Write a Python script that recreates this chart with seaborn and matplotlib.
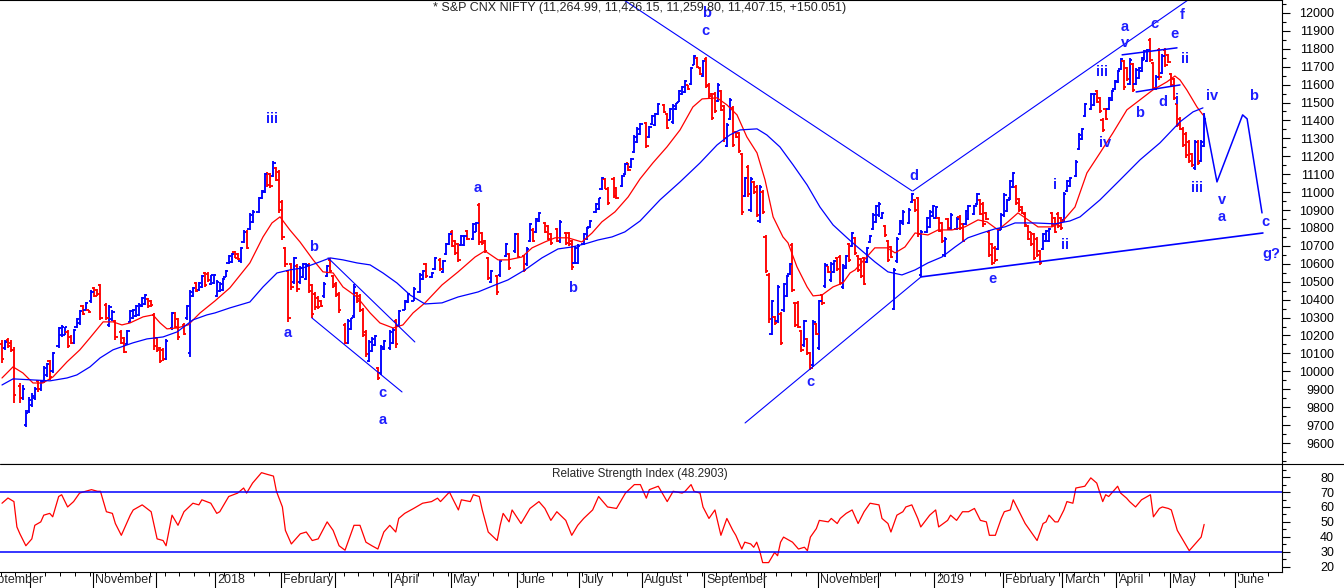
import matplotlib
matplotlib.use("Agg")
import matplotlib.pyplot as plt
import matplotlib.transforms as mtransforms
from matplotlib.lines import Line2D
import numpy as np
import pandas as pd
import seaborn as sns

sns.set_theme(style="white")
plt.rcParams["font.family"] = ["Liberation Sans", "DejaVu Sans"]

BLUE = "#0000ff"
RED = "#ff0000"
LABEL_BLUE = "#1e1eff"

# ---------------- daily bars (trading-session number, open, high, low, close) ----------------
session = [
    0,1,2,3,4,6,7,8,9,10,11,12,13,14,15,16,17,19,20,21,22,23,24,25,26,27,28,29,30,31,32,33,35,36,37,38,40,41,42,43,44,45,46,47,48,49,50,51,52,53,54,55,57,58,59,61,62,63,64,65,66,67,68,69,70,71,
    72,73,74,75,76,77,78,79,80,81,82,83,84,86,87,88,89,90,91,92,93,94,95,96,97,98,99,100,101,102,103,104,105,106,107,108,109,110,111,112,113,115,116,117,118,119,120,121,122,123,124,125,126,127,128,130,131,132,133,135,136,138,140,141,
    142,144,145,147,148,149,150,151,152,153,154,155,156,158,159,160,161,162,163,164,166,167,169,170,172,173,175,176,177,178,179,180,182,183,184,186,187,189,190,191,192,193,195,196,197,199,200,201,202,203,205,206,208,209,210,211,212,213,
    214,216,217,218,219,220,222,223,224,225,226,227,228,229,230,231,232,233,234,235,236,237,238,239,240,241,242,243,244,245,246,247,248,249,250,251,252,253,254,255,256,257,258,259,260,261,262,263,264,265,266,267,268,269,270,271,272,273,274,275,276,277,278,279,280,281,282,283,284,285,286,
    287,288,289,290,291,292,293,294,295,296,297,298,299,300,301,302,304,305,306,307,308,310,311,312,313,314,315,316,317,318,320,321,322,323,324,326,327,328,329,330,331,332,333,334,335,336,337,338,339,340,341,342,343,344,345,346,347,348,349,350,351,352,353,354,355,356,
    357,358,360,361,362,363,365,366,367,368,369,370,371,372,373,374,375,376,377,378,379,380,381,382,383,384,385,386,387,388,389,390,391,392,393,394,395,396,397,398,399,400,401,402,403,
]
opens = [
    10150,10130,10175,10160,10120,9920,9850,9700,9780,9810, 9850,9945,9900,9945,9980,10055,10000,10140,10200,10205,
    10220,10190,10160,10245,10270,10365,10345,10340,10390,10465, 10455,10480,10370,10260,10290,10280,10220,10185,10150,10275,
    10295,10310,10315,10365,10375,10405,10395,10315,10185,10130, 10120,10070,10240,10325,10290,10260,10295,10100,10420,10495,
    10455,10470,10550,10545,10490,10495,
    10420,10450,10455,10528,10605,10610,10665,10655,10615,10720, 10780,10795,10835,10890,10965,11000,11100,11100,11090,11135,
    11115,10945,10690,10560,10600,10500,10590,10500,10525,10515, 10595,10480,10430,10410,10395,10420,10530,10620,10530,10490,
    10430,10260,10160,10235,10310,10435,10420,10345,10220,10060, 10115,10145,10020,9990,10125,10130,10160,10280,10255,10345,
    10385,10395,10445,10515,
    10600,10525,10570,10620,10555,10655,10710,10780,10725,10710, 10705,10705,10785,10740,10780,10930,10770,10725,10630,10500,
    10530,10535,10645,10655,10670,10765,10645,10600,10725,10790, 10780,10840,10830,10810,10765,10795,10725,10770,10770,10725,
    10605,10605,10710,10740,10805,10890,10905,11015,11075,11020, 11075,11025,11035,11100,11160,11140,11225,11280,
    11325,11385,11305,11380,11375,11435,11485,11435,11405,11390, 11462,11505,11545,11560,11598,11605,11712,11750,11695,11650,
    11745,11600,11545,11550,11510,11565,11480,11260,11410,11470, 11335,11330,11210,10980,11140,10900,11055,11030,10840,11000,
    10750,10540,10210,10305,10280,10320,10340,10420,10545,10705, 10380,10380,10225,10145,10180,10100,10035,10265,10130,10425,
    10475,10585,10510,10555,10635,10640,10470,10575,10710,10700, 10745,
    10645,10625,10630,10610,10720,10795,10835,10870,10855,10810, 10725,10695,10350,10615,10765,10825,10830,10945,10955,10965,
    10540,10775,10805,10865,10855,10855,10825,10650,10850,10795, 10795,10860,10820,10820,10850,10880,10935,10955,10935,10885,
    10780,10710,10690,10685,10795,10870,10895,10965,11030,11030, 10960,10915,10880,10810,10775,10765,10740,10670,10685,10725,
    10725,10885,10855,10880,10855,10845,
    11005,11035,11090,11240,11295,11425,11465,11485,11565,11525, 11405,11465,11465,11515,11575,11615,11685,11730,11695,11605,
    11715,11605,11635,11675,11740,11730,11850,11720,11575,11795, 11665,11795,11765,11660,11630,11490,11410,11355,11325,11280,
    11210,11135,11280,11175,11260,
]
highs = [
    10175,10175,10186,10175,10136,9935,9924,9785,9857,9880, 9913,9952,9952,10030,10047,10064,10109,10247,10258,10250,
    10230,10200,10236,10300,10343,10371,10387,10343,10454,10471, 10460,10490,10382,10371,10340,10287,10230,10192,10231,10343,
    10350,10371,10380,10415,10430,10410,10400,10325,10192,10136, 10130,10180,10332,10332,10300,10270,10371,10454,10471,10500,
    10500,10538,10555,10555,10540,10545,
    10510,10500,10520,10565,10650,10660,10670,10660,10694,10789, 10789,10884,10900,10973,11010,11107,11110,11107,11171,11140,
    11124,10957,10694,10566,10605,10640,10600,10585,10605,10605, 10605,10490,10440,10420,10400,10500,10594,10630,10540,10500,
    10440,10270,10290,10300,10490,10440,10430,10355,10231,10175, 10190,10200,10025,10147,10175,10231,10240,10290,10343,10398,
    10438,10470,10549,10566,
    10605,10555,10638,10630,10622,10717,10772,10789,10733,10717, 10760,10760,10789,10828,10834,10940,10778,10733,10638,10566,
    10538,10622,10717,10661,10772,10772,10650,10694,10828,10800, 10856,10890,10834,10817,10772,10800,10845,10778,10778,10733,
    10700,10710,10772,10806,10845,10940,10970,11085,11080,11030, 11085,11030,11096,11163,11163,11191,11319,11364,
    11386,11392,11370,11431,11440,11498,11490,11440,11470,11490, 11498,11570,11590,11626,11600,11699,11766,11754,11699,11738,
    11754,11609,11554,11560,11609,11570,11487,11386,11526,11480, 11340,11336,11219,11085,11152,11085,11060,11040,11040,11010,
    10761,10549,10398,10310,10482,10332,10493,10538,10605,10717, 10387,10390,10231,10287,10186,10108,10287,10270,10398,10430,
    10605,10590,10610,10622,10640,10650,10600,10650,10717,10778, 10750,
    10650,10633,10640,10694,10761,10884,10930,10945,10890,10817, 10733,10700,10577,10750,10845,10900,10910,10996,10960,10973,
    10789,10860,10900,10929,10920,10860,10834,10750,10856,10884, 10860,10870,10830,10901,10930,10930,10996,10960,10945,10890,
    10789,10717,10700,10800,10884,10996,10960,11068,11113,11040, 10968,10920,10890,10817,10780,10772,10750,10677,10772,10790,
    10800,10890,10860,10890,10860,11001,
    11068,11085,11180,11330,11358,11498,11554,11554,11570,11531, 11414,11470,11531,11570,11626,11682,11750,11738,11700,11749,
    11721,11690,11700,11754,11794,11800,11860,11727,11654,11805, 11770,11805,11770,11665,11637,11498,11420,11364,11336,11291,
    11219,11291,11290,11290,11440,
]
lows = [
    10047,10120,10131,10108,9824,9824,9841,9690,9768,9800, 9841,9885,9890,9935,9970,9952,9990,10130,10190,10200,
    10131,10150,10150,10240,10260,10315,10343,10326,10382,10415, 10420,10287,10287,10250,10280,10175,10150,10100,10147,10270,
    10290,10304,10310,10360,10370,10355,10360,10120,10108,10047, 10060,10064,10231,10240,10175,10200,10287,10080,10415,10440,
    10450,10466,10470,10500,10480,10490,
    10415,10440,10450,10525,10600,10605,10630,10620,10605,10717, 10680,10789,10830,10884,10960,10996,11030,11025,11085,11060,
    10884,10735,10583,10276,10454,10490,10440,10490,10520,10510, 10438,10300,10343,10350,10360,10410,10527,10549,10466,10415,
    10326,10150,10150,10230,10300,10380,10330,10190,10080,10053, 10110,10140,9952,9980,10120,10120,10150,10130,10250,10343,
    10382,10390,10438,10510,
    10521,10521,10566,10560,10549,10650,10705,10694,10650,10611, 10700,10700,10733,10733,10778,10705,10705,10661,10510,10493,
    10426,10527,10638,10566,10661,10630,10555,10590,10720,10720, 10772,10834,10772,10733,10705,10722,10717,10705,10700,10566,
    10600,10600,10705,10733,10800,10884,10900,11012,11015,10929, 10968,10960,11029,11096,11120,11135,11219,11275,
    11319,11247,11300,11375,11370,11431,11440,11350,11400,11380, 11460,11503,11542,11554,11570,11598,11710,11693,11654,11643,
    11581,11526,11403,11440,11503,11450,11280,11252,11403,11250, 11300,11219,10873,10973,10973,10890,10990,10862,10828,10880,
    10549,10270,10203,10260,10270,10147,10332,10415,10538,10443, 10248,10240,10108,10136,10092,10005,10025,10200,10120,10370,
    10466,10550,10500,10549,10560,10482,10460,10570,10611,10694, 10650,
    10555,10521,10480,10605,10717,10789,10830,10862,10850,10750, 10611,10630,10343,10605,10761,10817,10820,10940,10890,10750,
    10527,10770,10800,10862,10850,10775,10717,10640,10790,10789, 10790,10790,10720,10817,10845,10875,10929,10870,10806,10845,
    10638,10594,10611,10677,10789,10862,10890,10957,11025,10929, 10890,10880,10806,10733,10700,10622,10638,10594,10677,10720,
    10720,10806,10770,10800,10790,10834,
    11001,11029,11085,11236,11290,11420,11459,11480,11498,11442, 11336,11400,11459,11510,11570,11610,11682,11570,11620,11598,
    11559,11600,11630,11671,11738,11727,11727,11570,11570,11626, 11660,11699,11720,11587,11515,11364,11347,11252,11191,11163,
    11141,11124,11150,11170,11252,
]
closes = [
    10070,10165,10140,10120,9870,9850,9900,9770,9840,9860, 9900,9900,9940,10020,10040,9970,10100,10240,10250,10245,
    10140,10160,10230,10290,10335,10320,10380,10330,10445,10420, 10430,10300,10300,10360,10330,10190,10160,10110,10225,10335,
    10345,10365,10370,10410,10425,10365,10370,10140,10120,10060, 10070,10170,10325,10250,10190,10210,10365,10440,10465,10450,
    10495,10530,10480,10510,10535,10540,
    10500,10490,10515,10560,10645,10655,10635,10625,10690,10780, 10690,10875,10890,10965,11005,11100,11040,11035,11160,11070,
    10900,10750,10600,10300,10470,10630,10460,10575,10600,10595, 10450,10320,10360,10360,10365,10490,10590,10560,10475,10425,
    10340,10160,10280,10295,10470,10390,10340,10200,10095,10165, 10180,10195,9965,10135,10170,10220,10230,10150,10335,10390,
    10430,10460,10540,10560,
    10530,10550,10630,10570,10615,10710,10765,10700,10660,10620, 10755,10755,10740,10820,10830,10720,10715,10670,10520,10560,
    10440,10615,10710,10575,10765,10640,10565,10685,10820,10730, 10850,10885,10780,10740,10715,10730,10835,10715,10710,10580,
    10690,10700,10765,10800,10840,10935,10965,11080,11020,10940, 10980,10970,11090,11155,11125,11185,11310,11355,
    11380,11260,11365,11425,11435,11490,11445,11360,11465,11480, 11495,11565,11585,11620,11575,11690,11760,11700,11660,11730,
    11590,11535,11415,11450,11600,11460,11300,11375,11515,11265, 11305,11230,10890,11080,10990,11075,11000,10875,11030,10890,
    10560,10290,10390,10270,10470,10160,10485,10530,10600,10455, 10260,10250,10120,10280,10100,10020,10275,10210,10390,10380,
    10595,10555,10600,10615,10570,10495,10590,10645,10620,10770, 10660,
    10565,10530,10490,10690,10755,10875,10920,10935,10885,10760, 10620,10640,10565,10740,10840,10890,10900,10990,10900,10765,
    10780,10855,10890,10920,10915,10785,10730,10740,10800,10875, 10850,10800,10730,10895,10925,10925,10990,10880,10820,10850,
    10650,10605,10620,10790,10875,10985,10955,11060,11105,10940, 10900,10885,10815,10740,10710,10635,10650,10605,10765,10785,
    10795,10815,10780,10810,10800,10990,
    11060,11080,11170,11320,11350,11490,11545,11550,11505,11450, 11345,11410,11525,11565,11620,11675,11745,11585,11630,11740,
    11570,11680,11695,11750,11790,11795,11740,11580,11645,11640, 11760,11710,11725,11595,11525,11375,11355,11265,11205,11175,
    11150,11280,11160,11280,11407,
]

# ---------------- moving averages ----------------
ma_fast_s = [0,3.7,7.0,10.4,13.7,17.1,21.8,26.1,29.5,33.9,37.2,40.2,42.9,47.3,50.6,53.0,55.3,58.7,62.4,66.4,71.4,76.4,83.1,87.5,90.5,93.2,96.5,99.9,104.3,107.6,111.0,114.3,119.0,123.4,126.7,131.1,134.4,137.8,141.8,147.5,152.9,158.6,161.9,166.3,169.6,174.3,177.7,182.0,185.4,189.7,194.4,197.8,201.1,205.5,209.9,213.9,218.2,222.9,227.3,231.6,234.7,239.7,243.0,246.4,249.7,253.1,255.8,258.5,261.8,263.5,266.5,269.9,271.9,274.9,278.6,281.9,284.3,286.0,292.6,296.7,299.4,302.7,306.1,310.4,313.8,318.5,322.8,327.2,330.2,333.9,337.2,340.6,344.0,347.3,352.0,355.4,359.7,363.7,368.1,372.4,377.1,381.5,385.8,390.5,393.2,394.9,397.2,400.6,402.6]
ma_fast_v = [9963,10025,9991,9935,9935,9969,10053,10120,10187,10276,10276,10259,10270,10304,10315,10270,10237,10242,10259,10326,10393,10466,10605,10750,10828,10862,10789,10722,10622,10555,10549,10471,10415,10326,10270,10242,10259,10326,10382,10482,10555,10638,10672,10622,10622,10638,10689,10722,10745,10745,10722,10772,10834,10890,10973,11074,11163,11252,11347,11475,11520,11526,11487,11431,11308,11219,11068,10862,10750,10717,10583,10471,10421,10426,10471,10493,10549,10566,10689,10689,10661,10694,10772,10761,10789,10789,10806,10845,10834,10789,10834,10884,10845,10806,10806,10834,10917,11107,11219,11330,11459,11515,11570,11615,11648,11626,11570,11475,11431]
ma_slow_s = [0,3.7,10.4,16.1,21.8,25.1,29.5,32.9,37.2,43.9,48.6,54.0,58.7,64.0,68.7,71.4,76.4,83.1,87.5,92.2,96.5,100.9,105.6,110.0,114.3,119.0,123.4,127.7,132.4,136.8,141.8,147.5,152.9,159.6,165.3,169.6,175.3,181.0,186.4,191.1,195.4,199.8,204.5,208.8,213.9,220.6,227.3,234.0,239.7,244.0,247.4,253.1,256.4,260.8,265.2,269.9,274.2,278.6,283.3,286.0,292.6,297.0,301.7,306.1,310.4,315.1,319.5,323.8,328.5,332.9,336.2,339.6,346.3,353.0,358.0,361.4,368.1,374.8,381.5,388.2,394.9,399.3,402.6]
ma_slow_v = [9924,9958,9952,9947,9963,9980,10025,10075,10120,10159,10181,10192,10220,10287,10315,10326,10354,10387,10471,10549,10566,10577,10605,10633,10622,10605,10594,10549,10493,10426,10376,10382,10415,10443,10482,10510,10566,10633,10683,10694,10711,10733,10750,10778,10839,10957,11057,11163,11263,11319,11347,11353,11319,11252,11152,11040,10917,10817,10745,10705,10611,10555,10538,10566,10605,10638,10694,10745,10772,10795,10806,10828,10828,10823,10839,10862,10957,11068,11180,11275,11392,11448,11470]

# ---------------- RSI ----------------
rsi_s = [0,2,4,5,6,8,10,11,13,14,16,17,19,20,22,24,26,28,30,32,33,35,37,38,40,43,44,47,50,52,54,55,57,59,61,64,66,67,70,72,73,76,79,81,82,84,87,89,91,92,94,95,97,98,100,102,104,106,109,111,113,115,118,120,122,124,126,128,130,132,133,135,138,141,144,146,147,150,151,153,154,157,158,160,161,163,166,167,168,170,171,174,177,180,182,184,186,189,191,193,195,198,200,203,206,209,212,214,216,
         217,220,221,223,224,225,228,229,231,232,234,235,237,239,241,243,245,246,248,249,251,252,253,254,255,257,259,260,261,262,265,267,269,270,271,273,274,277,278,280,281,283,285,287,289,291,294,295,297,298,300,302,303,305,307,308,311,313,314,317,318,320,322,324,326,328,330,331,333,335,336,338,339,341,343,345,347,349,350,351,353,354,356,357,359,360,363,365,367,369,370,371,374,375,377,378,380,382,385,386,388,389,391,392,394,396,397,398,400,402,403]
rsi_v = [62.5,66,63.6,46.6,42,34,38.6,47.7,50,54.5,55.7,53.4,67,68.2,60,63.6,69.3,70.5,71.6,70.5,70.5,56.8,55.7,48.9,41,54.5,58,61.4,56.8,38.6,37.5,34,54.5,47.7,56.8,62.5,61.4,64.8,62.5,55.7,56.8,67,69.3,72.7,69.3,76,83,81.8,80.7,70.5,60,44.3,35.2,37.5,42,43.2,37.5,38.6,50,44.3,34,31,47.7,47.7,36.4,34,31.8,43.2,47.7,43.2,52.3,55.7,59,62.5,63.6,65.9,63.6,70,65.9,58,64.8,63.6,68.2,67,58,43.2,37.5,47.7,55.7,50,58,48.9,59,63.6,59,51,56.8,51,41,47.7,52.3,58,67,60,59,69.3,75,75,65.9,
         71.6,73.9,70.5,63.6,67,70.5,69.3,70.5,75,70.5,69.3,60,52.3,58,41,52.3,44.3,41,31.8,36.4,35.2,33,36.4,30.7,22.7,22.7,29.5,27.3,36.4,39.8,36.4,31.8,33,30.7,39.8,45.5,51,50,52.3,48.9,52.3,55.7,58,48.9,56.8,62.5,61.4,52.3,48.9,43.2,54.5,56.8,60,61.4,52.3,46.6,54.5,58,46.6,51,54.5,51,56.8,56.8,59,51,50,41,41,52.3,56.8,58,64.8,56.8,48.9,43.2,37.5,48.9,50,54.5,50,50,58,63.6,62.5,72.7,73.9,79.5,76,63.6,68.2,67,73.9,69.3,65.9,63.6,60,64.8,68.2,53.4,59,60,59,58,44.3,37.5,34,30.7,35.2,39.8,48.3]

# ---------------- axes text ----------------
month_pos = [-7.5, 9.5, 30.5, 51.5, 71.5, 93.5, 111.5, 130.5, 150.5, 172.5, 193.5, 214.5, 235.5, 255.5, 273.5, 293.5, 312.5, 335.5, 355.5, 373.5, 391.5, 413.5]
month_labels = ["September", "", "November", "", "2018", "February", "", "April", "May", "June", "July", "August", "September", "", "November", "", "2019", "February", "March", "April", "May", "June"]
price_ticks = [9600, 9700, 9800, 9900, 10000, 10100, 10200, 10300, 10400, 10500, 10600, 10700, 10800, 10900, 11000, 11100, 11200, 11300, 11400, 11500, 11600, 11700, 11800, 11900, 12000]
rsi_ticks = [20, 30, 40, 50, 60, 70, 80]
rsi_bands = [70, 30]
title_text = "* S&P CNX NIFTY (11,264.99, 11,426.15, 11,259.80, 11,407.15, +150.051)"
rsi_title = "Relative Strength Index (48.2903)"

# ---------------- hand-drawn study lines (session, price) ----------------
trend_lines = [
    ([109.3, 138.4], [10633, 10164], 0.8),
    ([103.9, 134.1], [10298, 9885], 0.8),
    ([208.5, 305.1], [12072, 11007], 0.8),
    ([305.4, 397.6], [11007, 12072], 0.8),
    ([249.1, 308.1], [9712, 10527], 0.8),
    ([308.1, 422.7], [10527, 10772], 1.2),
    ([375.5, 393.9], [11766, 11805], 1.1),
    ([380.2, 394.9], [11559, 11598], 1.1),
]
projection_s = [403.0, 407.3, 415.9, 417.4, 422.4]
projection_p = [11431, 11057, 11431, 11409, 10884]

wave_labels = [
    ("iii", 90.5, 11409), ("a", 95.9, 10214), ("b", 104.6, 10694), ("c", 127.4, 9880), ("a", 127.7, 9729),
    ("a", 159.6, 11024), ("b", 191.4, 10466), ("b", 236.3, 12000), ("c", 235.7, 11900), ("c", 270.9, 9941),
    ("d", 305.7, 11090), ("e", 331.9, 10516), ("i", 353.0, 11040), ("ii", 356.3, 10705), ("iii", 368.8, 11671),
    ("iv", 369.8, 11275), ("a", 376.5, 11922), ("v", 376.5, 11833), ("c", 386.5, 11939), ("f", 395.6, 11989),
    ("e", 393.2, 11883), ("ii", 396.6, 11743), ("b", 381.5, 11442), ("d", 389.2, 11503), ("i", 393.9, 11515),
    ("iv", 405.6, 11537), ("b", 419.7, 11537), ("iii", 400.6, 11024), ("v", 409.0, 10957), ("a", 409.0, 10862),
    ("c", 423.4, 10834), ("g?", 425.7, 10655),
]

assert len(session) == len(opens) == len(highs) == len(lows) == len(closes)
assert len(ma_fast_s) == len(ma_fast_v) and len(ma_slow_s) == len(ma_slow_v) and len(rsi_s) == len(rsi_v)

bars = pd.DataFrame({"session": session, "open": opens, "high": highs, "low": lows, "close": closes})
bars["color"] = np.where(bars["close"] >= bars["open"], BLUE, RED)

# ---------------- layout ----------------
W, H = 1344, 588
fig = plt.figure(figsize=(W / 100, H / 100), dpi=100)
fig.patch.set_facecolor("white")
ax = fig.add_axes([0, 1 - 464 / H, 1282 / W, 464 / H])
axr = fig.add_axes([0, 1 - 572 / H, 1282 / W, 108 / H])
XMIN, XMAX = -0.67, 429.1
for a in (ax, axr):
    a.set_xlim(XMIN, XMAX)
    a.set_facecolor("white")
    a.grid(False)
ax.set_ylim(9483, 12072)
axr.set_ylim(16.4, 88.8)

# ---------------- price bars ----------------
tk = 0.75
ax.vlines(bars["session"], bars["low"], bars["high"], colors=bars["color"], lw=1.35)
ax.hlines(bars["open"], bars["session"] - tk, bars["session"], colors=bars["color"], lw=1.35)
ax.hlines(bars["close"], bars["session"], bars["session"] + tk, colors=bars["color"], lw=1.35)

sns.lineplot(x=ma_fast_s, y=ma_fast_v, ax=ax, color=RED, lw=0.9, estimator=None, sort=False)
sns.lineplot(x=ma_slow_s, y=ma_slow_v, ax=ax, color=BLUE, lw=0.9, estimator=None, sort=False)
for xs, ys, lw in trend_lines:
    sns.lineplot(x=xs, y=ys, ax=ax, color=BLUE, lw=lw, estimator=None, sort=False)
sns.lineplot(x=projection_s, y=projection_p, ax=ax, color=BLUE, lw=1.1, estimator=None, sort=False)

for t, s, p in wave_labels:
    ax.text(s, p, t, color=LABEL_BLUE, fontsize=10.5, fontweight="bold", ha="center", va="center")

# ---------------- RSI ----------------
sns.lineplot(x=rsi_s, y=rsi_v, ax=axr, color=RED, lw=0.9, estimator=None, sort=False)
for b in rsi_bands:
    axr.axhline(b, color=BLUE, lw=1.1)

# ---------------- axes styling ----------------
for a in (ax, axr):
    a.spines["left"].set_visible(False)
    for sp in ("top", "right", "bottom"):
        a.spines[sp].set_color("black")
        a.spines[sp].set_linewidth(0.8)
axr.spines["top"].set_visible(False)

ax.set_xticks([])
ax.yaxis.tick_right()
ax.set_yticks(price_ticks)
ax.set_yticklabels([str(t) for t in price_ticks], ha="right")
ax.set_yticks([t + 50 for t in price_ticks] + [9550, 9500], minor=True)
ax.tick_params(axis="y", which="major", direction="out", length=6, width=0.8, colors="black",
               labelsize=9, pad=31.5, right=True, left=False, labelright=True, labelleft=False)
ax.tick_params(axis="y", which="minor", direction="out", length=3, width=0.8, colors="black", right=True, left=False)

axr.yaxis.tick_right()
axr.set_yticks(rsi_ticks)
axr.set_yticklabels([str(t) for t in rsi_ticks], ha="right")
axr.set_yticks([t + 5 for t in rsi_ticks], minor=True)
axr.tick_params(axis="y", which="major", direction="out", length=6, width=0.8, colors="black",
                labelsize=9, pad=31.5, right=True, left=False, labelright=True, labelleft=False)
axr.tick_params(axis="y", which="minor", direction="out", length=3, width=0.8, colors="black", right=True, left=False)

axr.set_xticks([m for m in month_pos if m > XMIN])
axr.set_xticks(np.arange(-0.5, XMAX, 5), minor=True)
axr.tick_params(axis="x", which="major", direction="out", length=12, width=0.8, colors="black",
                bottom=True, labelbottom=False)
axr.tick_params(axis="x", which="minor", direction="out", length=3, width=0.7, colors="black", bottom=True)
for a in (ax, axr):
    a.set_xlabel("")
    a.set_ylabel("")

trans = mtransforms.blended_transform_factory(axr.transData, axr.transAxes)
for pos, lab in zip(month_pos, month_labels):
    if lab:
        axr.text(pos + 0.8, -0.078, lab, transform=trans, ha="left", va="center", fontsize=9, clip_on=False)

fig.add_artist(Line2D([0, 1], [1 - 464 / H] * 2, color="black", lw=0.8, transform=fig.transFigure))
fig.text(640 / W, 1 - 8 / H, title_text, ha="center", va="center", fontsize=9)
fig.text(640 / W, 1 - 474 / H, rsi_title, ha="center", va="center", fontsize=8.5)

fig.savefig("out.png", dpi=100, facecolor="white")
